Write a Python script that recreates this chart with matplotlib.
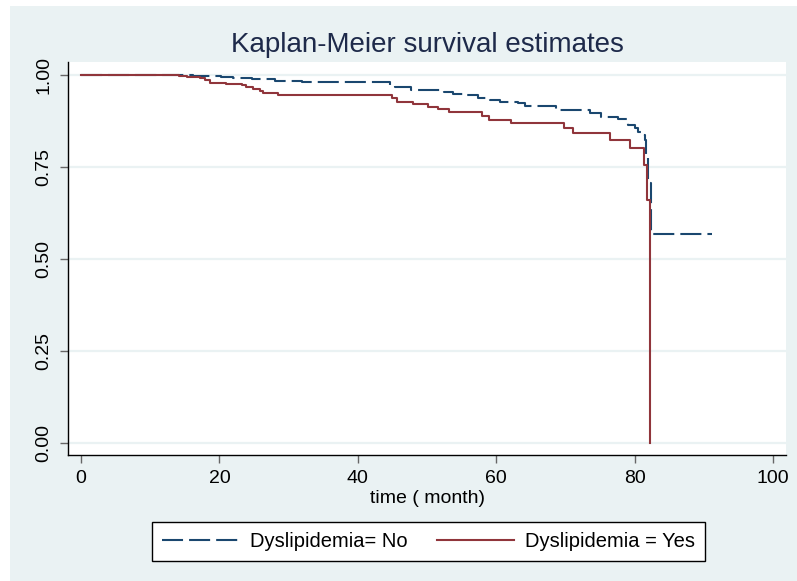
import matplotlib.pyplot as plt
from matplotlib.patches import Rectangle

# Kaplan-Meier estimates (time in months, survival)
# Dyslipidemia = No
t_no = [0, 13.8, 16.2, 20.3, 22.0, 24.7, 28.0, 31.9, 44.7, 45.4, 47.7, 52.4,
        53.8, 55.7, 57.4, 59.1, 60.5, 63.2, 64.2, 68.7, 73.6, 75.2, 77.6,
        79.1, 80.1, 80.5, 81.0, 81.5, 81.7, 82.0, 82.3, 91.2]
s_no = [1.0, 0.999, 0.997, 0.995, 0.992, 0.987, 0.984, 0.979, 0.972, 0.966,
        0.958, 0.952, 0.947, 0.944, 0.936, 0.931, 0.927, 0.922, 0.915, 0.904,
        0.897, 0.886, 0.879, 0.863, 0.854, 0.845, 0.836, 0.823, 0.777, 0.705,
        0.566, 0.566]

# Dyslipidemia = Yes
t_yes = [0, 14.1, 15.3, 17.2, 17.9, 18.6, 21.0, 23.2, 23.9, 24.9, 25.9, 26.3,
         28.5, 44.9, 45.7, 48.0, 50.2, 51.6, 53.2, 58.0, 59.0, 62.2, 69.8,
         71.1, 76.4, 79.4, 81.4, 81.8, 82.2]
s_yes = [1.0, 0.997, 0.995, 0.992, 0.986, 0.978, 0.975, 0.971, 0.966, 0.961,
         0.956, 0.949, 0.945, 0.9375, 0.927, 0.920, 0.913, 0.906, 0.898, 0.888,
         0.877, 0.870, 0.856, 0.842, 0.823, 0.800, 0.755, 0.660, 0.0]

etiquetas = ['Dyslipidemia= No', 'Dyslipidemia = Yes']
xticks = [0, 20, 40, 60, 80, 100]
yticks = [0.00, 0.25, 0.50, 0.75, 1.00]
ytick_labels = ['0.00', '0.25', '0.50', '0.75', '1.00']

azul = '#1a476f'
rojo = '#90353b'
fondo = '#eaf2f3'

plt.rcParams['font.family'] = ['Liberation Sans', 'DejaVu Sans']

W, H = 797, 581
fig = plt.figure(figsize=(W / 100, H / 100), dpi=100, facecolor='white')
# fondo gris azulado de la región del gráfico
fig.patches.append(Rectangle((10 / W, 0), 1, (H - 6) / H, transform=fig.transFigure,
                             facecolor=fondo, edgecolor='none', zorder=-10))

ax = fig.add_axes([68 / W, (H - 455) / H, 718 / W, 393 / H])
ax.set_facecolor('white')

l1, = ax.step(t_no, s_no, where='post', color=azul, lw=1.5,
              linestyle=(0, (10.1, 2.9)), zorder=3)
l2, = ax.step(t_yes, s_yes, where='post', color=rojo, lw=1.5, zorder=4)

ax.set_xlim(-1.88, 101.88)
ax.set_ylim(-0.0334, 1.0345)
ax.set_xticks(xticks)
ax.set_yticks(yticks)
ax.set_yticklabels(ytick_labels, rotation=90, va='center')

ax.grid(axis='y', color=fondo, lw=1.6)
ax.set_axisbelow(True)
for lado in ['top', 'right']:
    ax.spines[lado].set_visible(False)
for lado in ['left', 'bottom']:
    ax.spines[lado].set_color('black')
    ax.spines[lado].set_linewidth(1.0)

ax.tick_params(axis='both', length=6, width=1, color='#666666',
               labelsize=14, labelcolor='black', pad=5)

ax.set_xlabel('time ( month)', fontsize=14, labelpad=2)

fig.text(427 / W, (H - 52) / H, 'Kaplan-Meier survival estimates',
         ha='center', va='baseline', fontsize=20, color='#1e2a4a')

leg = fig.legend([l1, l2], etiquetas, loc='center',
                 bbox_to_anchor=(428.5 / W, (H - 541.5) / H), ncol=2,
                 fontsize=14.5, frameon=True, fancybox=False, edgecolor='black',
                 framealpha=1, handlelength=3.8, handletextpad=0.55,
                 columnspacing=1.5, borderpad=0.5)
leg.get_frame().set_linewidth(1.0)

plt.savefig('out.png', dpi=100, facecolor=fig.get_facecolor())
